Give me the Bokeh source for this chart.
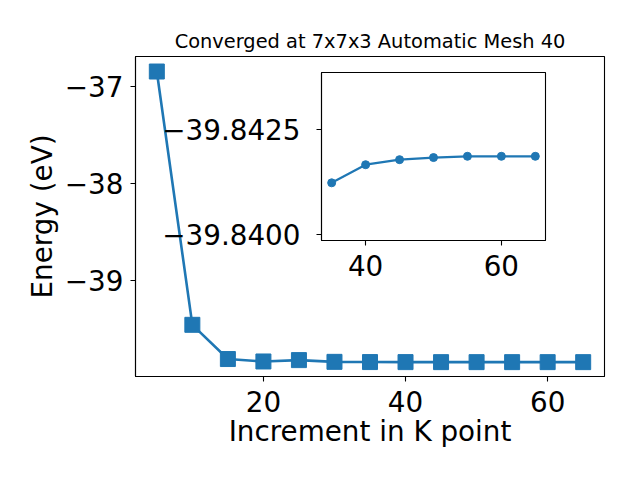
from bokeh.plotting import figure
from bokeh.models import Range1d, FixedTicker, CustomJSTickFormatter
from bokeh.embed import file_html
from bokeh.resources import INLINE

# ---- data ----
k_points = [5, 10, 15, 20, 25, 30, 35, 40, 45, 50, 55, 60, 65]
energies = [-36.845, -39.457, -39.810, -39.835, -39.821, -39.839,
            -39.84123, -39.84166, -39.84178, -39.84183, -39.84186, -39.84186, -39.84186]
inset_k = [35, 40, 45, 50, 55, 60, 65]
inset_e = [-39.84123, -39.84166, -39.84178, -39.84183, -39.84186, -39.84186, -39.84186]
main_xticks = [20, 40, 60]
main_yticks = [-39, -38, -37]
inset_xticks = [40, 60]
inset_yticks = [-39.8425, -39.8400]

title_text = "Converged at 7x7x3 Automatic Mesh 40"
xlabel = "Increment in K point"
ylabel = "Energy (eV)"

BLUE = "#1f77b4"
FONT = "DejaVu Sans"
LABEL_SIZE = "27.8px"


def style_axes(p, standoff_x, standoff_y):
    for ax in (p.xaxis[0], p.yaxis[0]):
        ax.axis_line_color = "black"
        ax.axis_line_width = 1.1
        ax.major_tick_line_color = "black"
        ax.major_tick_line_width = 1.1
        ax.major_tick_in = 0
        ax.major_tick_out = 5
        ax.minor_tick_line_color = None
        ax.major_label_text_font = FONT
        ax.major_label_text_font_size = LABEL_SIZE
        ax.major_label_text_color = "black"
        ax.axis_label_text_font = FONT
        ax.axis_label_text_font_size = LABEL_SIZE
        ax.axis_label_text_font_style = "normal"
        ax.axis_label_text_color = "black"
    p.xaxis[0].major_label_standoff = standoff_x
    p.yaxis[0].major_label_standoff = standoff_y
    p.xgrid.visible = False
    p.ygrid.visible = False
    p.outline_line_color = "black"
    p.outline_line_width = 1.1


# ---- main figure ----
p = figure(width=624, height=464, output_backend="svg", toolbar_location=None,
           x_range=Range1d(2, 68), y_range=Range1d(-39.99, -36.69),
           min_border_left=127, min_border_right=28,
           min_border_top=48, min_border_bottom=96,
           styles={"position": "absolute", "left": "8px", "top": "8px"})
p.title.text = title_text
p.title.align = "center"
p.title.text_font = FONT
p.title.text_font_size = "19.4px"
p.title.text_font_style = "normal"
p.title.text_color = "black"
p.title.standoff = 8

style_axes(p, 9, 7)
p.xaxis[0].ticker = FixedTicker(ticks=main_xticks)
p.yaxis[0].ticker = FixedTicker(ticks=main_yticks)
p.yaxis[0].formatter = CustomJSTickFormatter(
    code="return (tick < 0 ? '\\u2212' : '') + Math.abs(tick).toFixed(0);")
p.xaxis[0].axis_label = xlabel
p.yaxis[0].axis_label = ylabel
p.xaxis[0].axis_label_standoff = 0
p.yaxis[0].axis_label_standoff = 3

p.line(k_points, energies, line_color=BLUE, line_width=2.6)
p.scatter(k_points, energies, marker="square", size=15,
          fill_color=BLUE, line_color=BLUE)

# ---- inset figure ----
ins = figure(frame_width=224, frame_height=168, output_backend="svg",
             toolbar_location=None,
             x_range=Range1d(33.5, 66.5), y_range=Range1d(-39.83986, -39.84385),
             min_border_left=175, min_border_right=5,
             min_border_top=5, min_border_bottom=50,
             styles={"position": "absolute", "left": "146px", "top": "67px"})
ins.background_fill_color = "white"
ins.border_fill_alpha = 0
ins.border_fill_color = None
style_axes(ins, 9, 16)
ins.xaxis[0].ticker = FixedTicker(ticks=inset_xticks)
ins.yaxis[0].ticker = FixedTicker(ticks=inset_yticks)
ins.yaxis[0].formatter = CustomJSTickFormatter(
    code="return (tick < 0 ? '\\u2212' : '') + Math.abs(tick).toFixed(4);")

ins.line(inset_k, inset_e, line_color=BLUE, line_width=2.2)
ins.scatter(inset_k, inset_e, marker="circle", size=8,
            fill_color=BLUE, line_color=BLUE)

with open("out.html", "w") as f:
    f.write(file_html([p, ins], INLINE))
